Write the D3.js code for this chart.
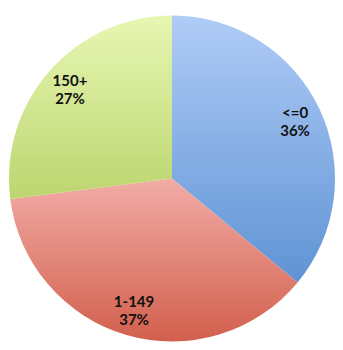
<!DOCTYPE html>
<html><head><meta charset="utf-8">
<script src="https://cdn.jsdelivr.net/npm/d3@7"></script>
<style>html,body{margin:0;padding:0;background:#fff;}svg{display:block;}</style>
</head><body>
<svg id="chart" width="343" height="350"></svg>
<script>
const categories = ["<=0", "1-149", "150+"];
const values = [36, 37, 27];
const topColors = ["#b0ccf7", "#f2aca6", "#e7f7b3"];
const bottomColors = ["#5f93d4", "#d25f4d", "#bcd56f"];

const svg = d3.select("#chart");
const cx = 172, cy = 178.5, R = 163;
const defs = svg.append("defs");
categories.forEach((c, i) => {
  const g = defs.append("linearGradient").attr("id", "g" + i)
    .attr("x1", 0).attr("y1", 0).attr("x2", 0).attr("y2", 1);
  g.append("stop").attr("offset", "0%").attr("stop-color", topColors[i]);
  g.append("stop").attr("offset", "100%").attr("stop-color", bottomColors[i]);
});
const pie = d3.pie().sort(null).value(d => d)(values);
const arc = d3.arc().innerRadius(0).outerRadius(R);
const labelArc = d3.arc().innerRadius(136).outerRadius(136);
const g = svg.append("g").attr("transform", `translate(${cx},${cy})`);
g.selectAll("path").data(pie).enter().append("path")
  .attr("d", arc).attr("fill", (d, i) => `url(#g${i})`);
const lab = g.selectAll("text").data(pie).enter().append("text")
  .attr("transform", d => {
    const c = labelArc.centroid(d);
    return `translate(${c[0]},${c[1]})`;
  })
  .attr("text-anchor", "middle")
  .style("font-family", "Lato, 'Open Sans', sans-serif")
  .style("font-weight", "bold").style("font-size", "15px").attr("fill", "#111");
lab.append("tspan").attr("x", 0).attr("dy", "-0.15em").text((d, i) => categories[i]);
lab.append("tspan").attr("x", 0).attr("dy", "1.2em").text(d => d.value + "%");
</script>
</body></html>
